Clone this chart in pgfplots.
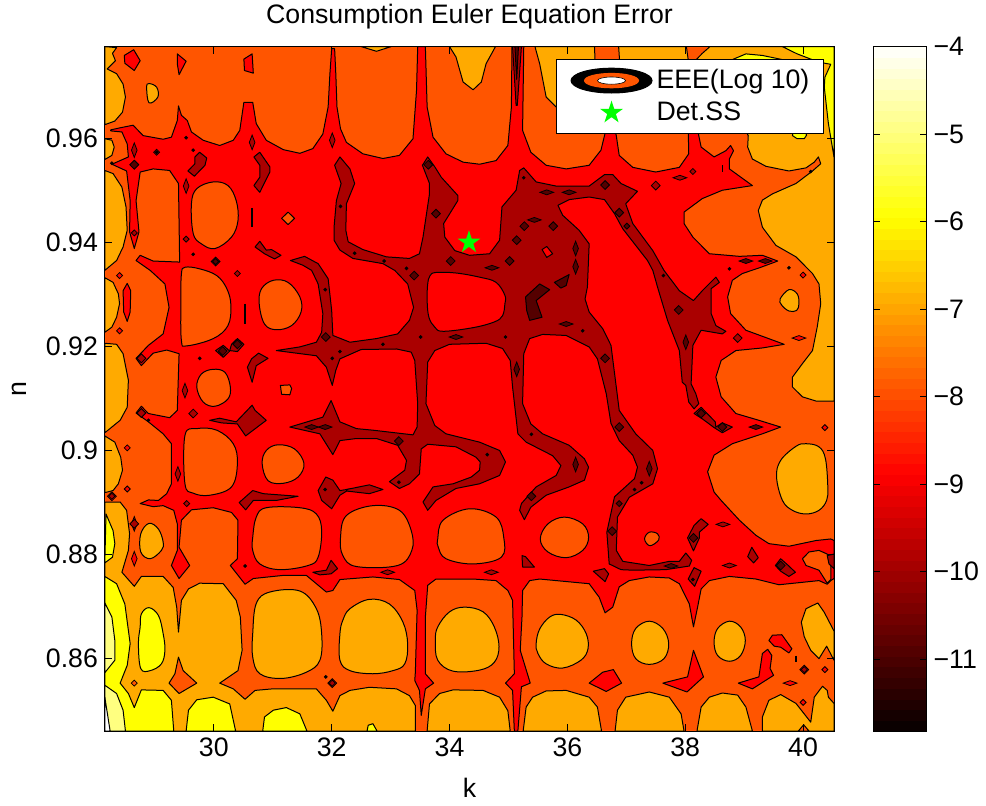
\documentclass[border=0pt]{standalone}
\usepackage{pgfplots}
\pgfplotsset{compat=1.18}
\usepackage{fontspec}
\setmainfont{Liberation Sans}
\definecolor{Cw}{RGB}{255,255,255}
\definecolor{C4}{RGB}{255,255,128}
\definecolor{C6}{RGB}{255,255,0}
\definecolor{C7}{RGB}{255,170,0}
\definecolor{C8}{RGB}{255,85,0}
\definecolor{C9}{RGB}{255,0,0}
\definecolor{C10}{RGB}{170,0,0}
\definecolor{C11}{RGB}{85,0,0}
\newcommand\fs{\fontsize{13.35}{15.5}\selectfont}
\pgfdeclareplotmark{dm}{%
 \pgfpathmoveto{\pgfqpoint{0pt}{\pgfplotmarksize}}%
 \pgfpathlineto{\pgfqpoint{\pgfplotmarksize}{0pt}}%
 \pgfpathlineto{\pgfqpoint{0pt}{-\pgfplotmarksize}}%
 \pgfpathlineto{\pgfqpoint{-\pgfplotmarksize}{0pt}}%
 \pgfpathclose\pgfusepathqfillstroke}
\pgfdeclareplotmark{fstar}{%
 \pgfpathmoveto{\pgfqpointpolar{90}{\pgfplotmarksize}}%
 \pgfpathlineto{\pgfqpointpolar{126}{.382\pgfplotmarksize}}%
 \pgfpathlineto{\pgfqpointpolar{162}{\pgfplotmarksize}}%
 \pgfpathlineto{\pgfqpointpolar{198}{.382\pgfplotmarksize}}%
 \pgfpathlineto{\pgfqpointpolar{234}{\pgfplotmarksize}}%
 \pgfpathlineto{\pgfqpointpolar{270}{.382\pgfplotmarksize}}%
 \pgfpathlineto{\pgfqpointpolar{306}{\pgfplotmarksize}}%
 \pgfpathlineto{\pgfqpointpolar{342}{.382\pgfplotmarksize}}%
 \pgfpathlineto{\pgfqpointpolar{18}{\pgfplotmarksize}}%
 \pgfpathlineto{\pgfqpointpolar{54}{.382\pgfplotmarksize}}%
 \pgfpathclose\pgfusepathqfill}
\pgfplotsset{
 lev/.style={fill=#1,draw=black,line width=.5pt,line join=round,mark=none,forget plot},
 blob/.style={lev=#1,smooth cycle,tension=.62},
 mk/.style={only marks,mark=dm,forget plot,draw=black,fill=#1,mark options={draw=black,fill=#1,line width=.4pt}},
 dA/.style={mk=#1,mark size=2.2pt},
 dB/.style={mk=#1,mark size=1.5pt},
 dT/.style={mk=#1,mark size=1.4pt,mark options={draw=black,fill=#1,line width=.4pt,yscale=2.6}},
 dF/.style={mk=#1,mark size=3.4pt,mark options={draw=black,fill=#1,line width=.4pt,yscale=.36}},
 dD/.style={mk=#1,mark size=.7pt},
}
\begin{document}
\begin{tikzpicture}
\path[use as bounding box] (-52.5pt,-37pt) rectangle (440.5pt,365.5pt);
\begin{axis}[
 scale only axis,width=364.5pt,height=342.2pt,
 xmin=28.153,xmax=40.525,ymin=.8461,ymax=.9776,
 axis on top,
 axis line style={line width=.5pt},
 tick align=inside,major tick length=3.5pt,tick style={black,line width=.4pt},
 xtick={30,32,34,36,38,40},
 ytick={.86,.88,.9,.92,.94,.96},
 yticklabels={0.86,0.88,0.9,0.92,0.94,0.96},
 tick label style={font=\fs},
 /pgf/number format/assume math mode=true,
 xlabel={k},ylabel={n},
 xlabel style={font=\fs,yshift=-3.5pt},
 ylabel style={font=\fs,yshift=3pt},
 title={Consumption Euler Equation Error},
 title style={font=\fs,yshift=-1pt},
 colormap={hotm}{rgb255(0)=(5,0,0) rgb255(3)=(255,0,0) rgb255(6)=(255,255,0) rgb255(8)=(255,255,255)},
 point meta min=-11.82,point meta max=-4,
 colorbar,colorbar sampled,
 colorbar style={samples=65,width=26.75pt,scale only axis,at={(1.0535,1)},anchor=north west,
   ytick={-11,-10,-9,-8,-7,-6,-5,-4},
   yticklabels={−11,−10,−9,−8,−7,−6,−5,−4},
   tick align=inside,major tick length=3.5pt,
   tick label style={font=\fs},
   axis line style={line width=.5pt},
   yticklabel pos=right,ytick pos=both},
 legend style={at={(.6187,.982)},anchor=north west,draw=black,line width=.5pt,fill=white,
   font=\fs,inner xsep=5pt,inner ysep=3pt,row sep=1pt,cells={anchor=west},/tikz/every even column/.append style={column sep=3.5pt}},
]
% ---- base level
\addplot[lev=C8,draw=none] coordinates {(28.153,.8461)(40.525,.8461)(40.525,.9776)(28.153,.9776)} --cycle;
% ---- level -7 to -6 regions
\addplot[lev=C7] coordinates {(28.15,.9776)(28.35,.9774)(28.28,.9763)(28.33,.9749)(28.19,.9733)(28.35,.9724)(28.46,.9704)(28.50,.9679)(28.45,.965)(28.32,.9633)(28.15,.9626)} --cycle;
\addplot[lev=C7] coordinates {(28.15,.9599)(28.27,.9596)(28.31,.9583)(28.27,.9567)(28.15,.9559)} --cycle;
\addplot[lev=C7] coordinates {(28.15,.9538)(28.29,.9532)(28.44,.9506)(28.51,.9468)(28.53,.9423)(28.46,.9391)(28.35,.9365)(28.15,.9346)} --cycle;
\addplot[lev=C7] coordinates {(28.15,.9332)(28.29,.9323)(28.38,.9301)(28.40,.9282)(28.35,.9256)(28.27,.9237)(28.15,.9227)} --cycle;
\addplot[lev=C7] coordinates {(28.15,.9206)(28.35,.9204)(28.46,.9186)(28.55,.9135)(28.53,.9083)(28.41,.9058)(28.15,.9034)} --cycle;
\addplot[lev=C7] coordinates {(28.15,.9028)(28.32,.9016)(28.42,.8987)(28.45,.8962)(28.38,.8936)(28.29,.8923)(28.15,.8919)} --cycle;
\addplot[lev=C7] coordinates {(28.15,.8901)(28.41,.8901)(28.52,.8885)(28.57,.8840)(28.55,.8808)(28.44,.8766)(28.65,.8739)(28.77,.8758)(29.14,.8758)(29.31,.8737)(29.37,.8699)(29.40,.8651)(29.45,.8712)(29.57,.8734)(29.76,.8745)(30.16,.8744)(30.38,.8712)(30.45,.8680)(30.48,.8616)(30.41,.8577)(30.10,.8553)(30.33,.8542)(30.53,.8522)(30.70,.8539)(31.00,.8542)(31.74,.8542)(31.91,.8520)(32.02,.8499)(32.14,.8529)(32.31,.8539)(32.64,.8545)(33.10,.8542)(33.32,.8529)(33.42,.8510)(33.42,.8461)(28.15,.8461)} --cycle;
\addplot[blob=C7] coordinates {(28.76,.8840)(28.90,.8860)(29.06,.8849)(29.14,.8824)(29.11,.8808)(28.92,.8792)(28.76,.8805)};
\addplot[blob=C7] coordinates {(30.66,.8648)(30.72,.8706)(30.95,.8728)(31.46,.8730)(31.74,.8696)(31.83,.8648)(31.80,.8597)(31.57,.8574)(31.15,.8562)(30.78,.8571)(30.66,.8603)};
\addplot[blob=C7] coordinates {(32.14,.8648)(32.19,.8674)(32.31,.8696)(32.64,.8714)(32.98,.8705)(33.21,.8670)(33.29,.8628)(33.24,.8590)(33.04,.8577)(32.70,.8571)(32.31,.8577)(32.14,.8597)};
\addplot[blob=C7] coordinates {(33.76,.8635)(33.80,.8661)(34.00,.8690)(34.26,.8699)(34.57,.8690)(34.76,.8661)(34.84,.8623)(34.76,.8593)(34.51,.8578)(34.06,.8576)(33.80,.8597)};
\addplot[blob=C7] coordinates {(35.47,.8629)(35.53,.8657)(35.70,.8680)(35.89,.8685)(36.15,.8674)(36.32,.8648)(36.35,.8619)(36.23,.8597)(35.92,.8582)(35.64,.8590)(35.50,.8610)};
\addplot[lev=C7] coordinates {(33.62,.8461)(33.66,.8513)(33.83,.8533)(34.06,.8540)(34.57,.8539)(34.85,.8526)(34.99,.8500)(35.03,.8461)} --cycle;
\addplot[lev=C7] coordinates {(35.25,.8461)(35.30,.8507)(35.41,.8526)(35.64,.8538)(35.98,.8539)(36.37,.8526)(36.51,.8507)(36.58,.8461)} --cycle;
\addplot[lev=C7] coordinates {(36.81,.8461)(36.85,.8501)(36.99,.8526)(37.39,.8536)(37.73,.8526)(37.93,.8494)(37.98,.8461)} --cycle;
\addplot[lev=C7] coordinates {(38.20,.8461)(38.27,.8507)(38.41,.8526)(38.63,.8534)(38.89,.8530)(39.03,.8507)(39.14,.8461)} --cycle;
\addplot[lev=C7] coordinates {(39.31,.8461)(39.31,.8488)(39.42,.8520)(39.62,.8531)(39.88,.8514)(40.13,.8478)(40.19,.8526)(40.33,.8547)(40.41,.8539)(40.43,.8526)(40.525,.8514)(40.525,.8461)} --cycle;
\addplot[blob=C7] coordinates {(37.09,.8629)(37.16,.8658)(37.39,.8672)(37.62,.8658)(37.72,.8629)(37.64,.8600)(37.39,.8589)(37.16,.8600)};
\addplot[blob=C7] coordinates {(38.49,.8632)(38.55,.8658)(38.75,.8672)(38.94,.8661)(39.02,.8635)(38.94,.8606)(38.75,.8595)(38.55,.8606)};
\addplot[lev=C7] coordinates {(39.97,.8670)(40.05,.8696)(40.25,.8707)(40.36,.8689)(40.525,.8653)(40.525,.8597)(40.40,.8624)(40.27,.8600)(40.13,.8616)(40.02,.8642)} --cycle;
\addplot[blob=C7] coordinates {(39.55,.8949)(39.62,.8981)(39.88,.9008)(40.05,.9013)(40.27,.9007)(40.38,.8984)(40.42,.8930)(40.40,.8904)(40.27,.8885)(40.05,.8878)(39.82,.8885)(39.65,.8904)};
\addplot[lev=C7] coordinates {(34.00,.9776)(34.11,.9756)(34.23,.9708)(34.40,.9693)(34.54,.9708)(34.62,.9743)(34.78,.9776)} --cycle;
\addplot[lev=C7] coordinates {(32.50,.9776)(32.76,.9767)(33.01,.9776)} --cycle;
\addplot[lev=C7] coordinates {(35.45,.9776)(35.53,.9743)(35.64,.9679)(35.81,.9660)(35.98,.9666)(36.47,.9749)(36.46,.9776)} --cycle;
\addplot[lev=C7] coordinates {(36.87,.9776)(36.89,.9743)(38.06,.9743)(38.02,.9776)} --cycle;
\addplot[lev=C7] coordinates {(38.42,.9776)(40.525,.9776)(40.525,.9095)(40.22,.9095)(39.99,.9103)(39.82,.9122)(39.82,.9141)(39.99,.9167)(40.16,.9192)(40.24,.9237)(40.30,.9282)(40.27,.9320)(40.16,.9340)(39.88,.9372)(39.54,.9394)(39.31,.9429)(39.24,.9461)(39.31,.9481)(39.48,.9493)(39.88,.9513)(40.16,.9537)(40.30,.9551)(40.26,.9564)(40.19,.9554)(40.05,.9543)(39.76,.9537)(39.37,.9546)(39.14,.9560)(39.06,.9583)(39.07,.9605)(38.63,.9692)(38.17,.9749)(38.29,.9763)} --cycle;
% ---- yellow
\addplot[lev=C6] coordinates {(39.65,.9776)(39.90,.9762)(40.27,.9746)(40.47,.9742)(40.37,.9717)(40.36,.9698)(40.43,.9628)(40.525,.9564)(40.525,.9776)} --cycle;
\addplot[lev=C6] coordinates {(39.82,.9605)(39.90,.9599)(40.02,.9599)(40.06,.9606)(39.9,.9650)} --cycle;
\addplot[lev=C6] coordinates {(38.80,.9751)(39.03,.9762)(39.31,.9759)(39.65,.9751)(39.3,.970)} --cycle;
\addplot[lev=C6] coordinates {(28.15,.8758)(28.35,.8744)(28.49,.8705)(28.58,.8629)(28.53,.8587)(28.41,.8553)(28.55,.8533)(28.65,.8506)(28.77,.8540)(29.14,.8539)(29.28,.8520)(29.32,.8461)(28.15,.8461)} --cycle;
\addplot[lev=C6] coordinates {(28.17,.8878)(28.29,.8846)(28.32,.8821)(28.28,.8795)(28.15,.8784)} --cycle;
\addplot[lev=C6] coordinates {(29.53,.8461)(29.57,.8501)(29.71,.8521)(29.99,.8526)(30.27,.8513)(30.37,.8461)} --cycle;
\addplot[lev=C6] coordinates {(30.83,.8461)(30.86,.8488)(31.01,.8501)(31.23,.8506)(31.46,.8494)(31.58,.8461)} --cycle;
\addplot[blob=C6] coordinates {(28.75,.8661)(28.77,.8686)(28.90,.8698)(29.06,.8683)(29.14,.8648)(29.17,.8616)(29.11,.8590)(28.92,.8577)(28.76,.8581)(28.72,.8629)};
\addplot[lev=C6] coordinates {(32.60,.8461)(32.62,.8472)(32.70,.8475)(32.77,.8461)} --cycle;
% ---- lightest levels
\addplot[lev=C4] coordinates {(28.15,.8707)(28.27,.8680)(28.32,.8635)(28.32,.8597)(28.15,.8573)} --cycle;
\addplot[lev=C4] coordinates {(28.15,.8549)(28.35,.8533)(28.46,.8501)(28.50,.8461)(28.15,.8461)} --cycle;
\addplot[lev=Cw] coordinates {(28.15,.8526)(28.24,.8461)(28.15,.8461)} --cycle;
% ---- level -8 to -7 inside the orange
\addplot[lev=C8] coordinates {(29.40,.8603)(29.48,.8577)(29.71,.8553)(29.41,.8533)(29.24,.8553)(29.34,.8571)} --cycle;
\addplot[lev=C8] coordinates {(39.92,.8461)(40.01,.8473)(40.10,.8461)} --cycle;
\addplot[dB=C8] coordinates {(28.65,.8553)};
% ---- level -9 to -8
\addplot[lev=C9] coordinates {(28.25,.9616)(28.41,.9620)(28.63,.9625)(28.80,.9605)(29.14,.9598)(29.28,.9602)(29.38,.9634)(29.40,.9662)(29.45,.9644)(29.55,.9634)(29.62,.9612)(29.82,.9596)(30.10,.9586)(30.33,.9596)(30.44,.9615)(30.51,.9669)(30.66,.9669)(30.72,.9628)(30.89,.9596)(31.18,.9578)(31.46,.9571)(31.68,.9580)(31.85,.9608)(31.94,.9660)(31.97,.9724)(32.0,.9772)(32.05,.9772)(32.07,.9724)(32.09,.9660)(32.15,.9618)(32.25,.9592)(32.53,.9570)(32.87,.9561)(33.15,.9567)(33.38,.9599)(33.44,.9692)(33.46,.9776)(33.59,.9776)(33.62,.9660)(33.72,.9602)(33.94,.9570)(34.23,.9554)(34.51,.9550)(34.79,.9557)(34.99,.9586)(35.05,.9660)(35.06,.9776)(35.26,.9776)(35.24,.9615)(35.38,.9573)(35.64,.9548)(35.98,.9541)(36.37,.9548)(36.57,.9577)(36.63,.9605)(36.73,.9650)(36.83,.9605)(36.88,.9567)(37.11,.9544)(37.50,.9535)(37.90,.9544)(38.06,.9570)(38.05,.9620)(38.15,.9650)(38.23,.9605)(38.27,.9583)(38.49,.9564)(38.69,.9576)(38.77,.9586)(38.82,.9576)(38.75,.9560)(38.75,.9541)(39.14,.9509)(38.63,.9500)(38.29,.9484)(37.98,.9458)(37.98,.9436)(38.13,.9410)(38.41,.9378)(38.92,.9373)(39.31,.9375)(39.57,.9364)(39.26,.9351)(38.97,.9340)(38.80,.9327)(38.72,.9295)(38.77,.9263)(39.03,.9231)(39.68,.9204)(39.31,.9197)(38.86,.9192)(38.61,.9173)(38.52,.9141)(38.61,.9103)(38.86,.9071)(39.25,.9058)(39.62,.9045)(39.31,.9032)(38.80,.9013)(38.49,.8991)(38.38,.8959)(38.49,.8920)(38.61,.8904)(38.92,.8866)(39.20,.8837)(39.42,.8821)(39.76,.8816)(40.22,.8827)(40.47,.8830)(40.525,.8827)(40.525,.8754)(40.47,.8750)(40.41,.8743)(40.27,.8750)(39.76,.8744)(39.59,.8742)(39.20,.8753)(38.75,.8758)(38.41,.8750)(38.27,.8734)(38.21,.8699)(38.14,.8661)(38.07,.8705)(37.90,.8744)(37.73,.8755)(37.39,.8757)(37.05,.8750)(36.88,.8738)(36.77,.8699)(36.64,.8688)(36.54,.8718)(36.37,.8744)(35.53,.8753)(35.36,.8750)(35.24,.8731)(35.23,.8680)(35.20,.8616)(35.37,.8553)(35.22,.8546)(35.16,.8461)(35.10,.8461)(35.07,.8539)(34.95,.8553)(35.10,.8571)(35.07,.8712)(34.99,.8731)(34.79,.8750)(34.40,.8753)(33.77,.8753)(33.63,.8741)(33.59,.8680)(33.59,.8571)(33.73,.8553)(33.59,.8542)(33.52,.8491)(33.49,.8539)(33.41,.8558)(33.42,.8574)(33.45,.8693)(33.41,.8731)(33.15,.8752)(32.70,.8757)(32.14,.8752)(32.02,.8731)(31.91,.8728)(31.57,.8760)(31.18,.8760)(30.67,.8754)(30.53,.8743)(30.28,.8779)(30.40,.8792)(30.41,.8866)(30.30,.8881)(29.99,.8890)(29.62,.8886)(29.45,.8866)(29.41,.8814)(29.59,.8779)(29.41,.8754)(29.28,.8779)(29.38,.8808)(29.38,.8859)(29.32,.8885)(29.14,.8894)(28.97,.8892)(28.75,.8898)(28.89,.8905)(29.06,.8904)(29.20,.8917)(29.28,.8936)(29.28,.9013)(29.14,.9032)(28.89,.9055)(28.68,.9072)(28.77,.9085)(28.89,.9071)(29.25,.9063)(29.38,.9077)(29.41,.9186)(29.20,.9193)(28.97,.9187)(28.77,.9163)(28.68,.9177)(28.89,.9202)(29.14,.9224)(29.24,.9275)(29.17,.9320)(28.92,.9346)(28.68,.9365)(28.75,.9375)(28.97,.9364)(29.42,.9362)(29.40,.9513)(29.25,.9538)(28.97,.9541)(28.75,.9535)(28.68,.9480)(28.73,.9420)(28.65,.9388)(28.57,.9420)(28.58,.9480)(28.52,.9537)(28.27,.9550)(28.55,.9564)(28.53,.9589)(28.44,.9612)(28.25,.9614)} --cycle;
% islands of -8 to -7 in the red
\addplot[blob=C8] coordinates {(29.62,.9474)(29.71,.9503)(29.99,.9516)(30.24,.9509)(30.38,.9480)(30.41,.9442)(30.30,.9410)(30.02,.9388)(29.79,.9397)(29.65,.9417)};
\addplot[blob=C8] coordinates {(29.44,.9282)(29.45,.9339)(29.51,.9352)(29.76,.9349)(30.05,.9336)(30.22,.9311)(30.29,.9279)(30.24,.9240)(29.99,.9215)(29.54,.9201)(29.45,.9211)};
\addplot[blob=C8] coordinates {(30.77,.9282)(30.81,.9311)(31.01,.9327)(31.26,.9323)(31.46,.9295)(31.48,.9266)(31.32,.9240)(31.06,.9232)(30.86,.9243)};
\addplot[blob=C8] coordinates {(29.71,.9122)(29.79,.9147)(29.99,.9156)(30.19,.9150)(30.28,.9122)(30.24,.9099)(30.02,.9085)(29.82,.9093)};
\addplot[blob=C8] coordinates {(29.51,.9029)(29.71,.9042)(30.05,.9039)(30.33,.9013)(30.40,.8975)(30.30,.8930)(29.93,.8914)(29.65,.8918)(29.51,.8936)};
\addplot[blob=C8] coordinates {(30.82,.8975)(30.89,.9000)(31.09,.9011)(31.37,.9003)(31.53,.8975)(31.43,.8949)(31.18,.8937)(30.92,.8942)};
\addplot[blob=C8] coordinates {(30.66,.8833)(30.72,.8872)(30.89,.8890)(31.46,.8890)(31.74,.8878)(31.83,.8846)(31.77,.8795)(31.60,.8779)(31.12,.8771)(30.78,.8782)(30.66,.8808)};
\addplot[blob=C8] coordinates {(32.15,.8833)(32.25,.8875)(32.70,.8894)(33.15,.8885)(33.35,.8846)(33.36,.8808)(33.12,.8779)(32.42,.8777)(32.19,.8798)};
\addplot[blob=C8] coordinates {(33.80,.8830)(33.89,.8866)(34.34,.8888)(34.79,.8872)(34.92,.8833)(34.88,.8795)(34.40,.8782)(33.94,.8792)(33.81,.8814)};
\addplot[blob=C8] coordinates {(35.54,.8830)(35.67,.8859)(35.95,.8872)(36.26,.8859)(36.36,.8833)(36.26,.8808)(35.98,.8794)(35.67,.8805)};
\addplot[lev=C8] coordinates {(31.15,.9446)(31.26,.9458)(31.37,.9446)(31.26,.9434)} --cycle;
\addplot[lev=C8] coordinates {(31.13,.9125)(31.29,.9126)(31.32,.9119)(31.29,.9107)(31.15,.9108)} --cycle;
\addplot[blob=C8] coordinates {(37.31,.8830)(37.39,.8843)(37.53,.8840)(37.55,.8828)(37.40,.8817)};
\addplot[lev=C8] coordinates {(39.99,.8792)(40.10,.8805)(40.27,.8808)(40.41,.8801)(40.47,.8779)(40.47,.8752)(40.41,.8745)(40.27,.8770)(40.05,.8779)} --cycle;
\addplot[blob=C7] coordinates {(28.86,.9698)(28.90,.9705)(29.03,.9698)(29.05,.9679)(28.90,.9668)};
\addplot[blob=C7] coordinates {(39.61,.9291)(39.76,.9309)(39.90,.9301)(39.93,.9282)(39.89,.9269)(39.76,.9268)(39.64,.9279)};
% red islands on the orange-red
\addplot[lev=C9] coordinates {(28.48,.9759)(28.64,.9770)(28.75,.9749)(28.65,.9730)(28.49,.9744)} --cycle;
\addplot[lev=C9] coordinates {(29.38,.9762)(29.53,.9748)(29.41,.9722)(29.38,.9743)} --cycle;
\addplot[lev=C9] coordinates {(30.51,.9752)(30.65,.9762)(30.67,.9725)(30.52,.9730)} --cycle;
\addplot[lev=C9] coordinates {(36.37,.8553)(36.60,.8574)(36.78,.8579)(36.92,.8553)(36.66,.8537)} --cycle;
\addplot[lev=C9] coordinates {(37.62,.8553)(38.04,.8565)(38.14,.8616)(38.31,.8565)(38.03,.8536)} --cycle;
\addplot[lev=C9] coordinates {(38.90,.8553)(39.25,.8565)(39.31,.8610)(39.40,.8618)(39.47,.8606)(39.44,.8581)(39.50,.8568)(39.14,.8542)} --cycle;
\addplot[lev=C9] coordinates {(39.42,.8635)(39.48,.8645)(39.64,.8646)(39.81,.8619)(39.76,.8611)(39.62,.8622)(39.51,.8624)} --cycle;
\addplot[lev=C9] coordinates {(28.46,.9307)(28.53,.9321)(28.59,.9307)(28.58,.9266)(28.53,.9248)(28.47,.9266)} --cycle;
\addplot[dA=C9] coordinates {(40.02,.8579)(32.01,.8553)(28.77,.9177)(28.77,.9072)(28.27,.8912)};
\addplot[dB=C9] coordinates {(28.53,.9005)(28.53,.8926)(28.40,.9230)(28.40,.9336)(40.37,.8579)(40.37,.9044)(40.00,.9337)(40.0,.8516)};
\addplot[dT=C9] coordinates {(28.65,.8792)(28.65,.8859)};
\addplot[dF=C9] coordinates {(39.93,.9216)(39.78,.8553)};
% ---- level -10 to -9
\addplot[lev=C10] coordinates {(32.14,.9564)(32.31,.9541)(32.39,.9513)(32.25,.9474)(32.24,.9423)(32.28,.9401)(32.53,.9386)(32.93,.9372)(33.32,.9369)(33.49,.9378)(33.55,.9410)(33.66,.9493)(33.66,.9513)(33.54,.9548)(33.63,.9564)(33.75,.9545)(33.86,.9525)(34.14,.9490)(34.14,.9480)(33.90,.9436)(33.92,.9410)(34.09,.9384)(34.34,.9375)(34.68,.9378)(34.85,.9404)(34.89,.9468)(35.13,.9500)(35.19,.9538)(35.26,.9543)(35.47,.9516)(35.81,.9508)(36.37,.9508)(36.63,.9530)(36.77,.9530)(36.91,.9513)(37.19,.9498)(36.99,.9474)(37.11,.9436)(37.45,.9384)(37.64,.9346)(37.90,.9307)(38.14,.9288)(38.29,.9307)(38.52,.9333)(38.58,.9323)(38.44,.9311)(38.44,.9263)(38.52,.9240)(38.69,.9229)(38.63,.9224)(38.27,.9231)(38.13,.9202)(38.10,.9128)(38.18,.9109)(38.23,.9090)(38.15,.9080)(38.06,.9093)(38.01,.9125)(37.95,.9131)(37.90,.9192)(37.70,.9250)(37.53,.9314)(37.45,.9346)(37.36,.9365)(36.94,.9426)(36.80,.9455)(36.63,.9482)(36.37,.9487)(36.03,.9482)(35.84,.9471)(35.92,.9452)(36.20,.9423)(36.37,.9397)(36.34,.9314)(36.30,.9291)(36.37,.9266)(36.60,.9234)(36.74,.9202)(36.83,.9122)(36.88,.9077)(37.16,.9032)(37.45,.9000)(37.53,.8965)(37.45,.8936)(37.05,.8910)(36.85,.8872)(36.83,.8808)(36.94,.8787)(37.39,.8779)(37.73,.8787)(37.90,.8787)(38.01,.8803)(38.11,.8789)(38.07,.8778)(37.67,.8771)(37.11,.8770)(36.91,.8771)(36.71,.8782)(36.67,.8843)(36.75,.8885)(36.80,.8911)(37.14,.8946)(37.19,.8968)(37.11,.8991)(36.88,.9019)(36.74,.9052)(36.66,.9109)(36.51,.9176)(36.37,.9199)(35.98,.9221)(35.58,.9223)(35.36,.9215)(35.26,.9186)(35.24,.9090)(35.38,.9051)(35.58,.9032)(36.03,.9010)(36.29,.8984)(36.36,.8968)(36.29,.8943)(36.03,.8930)(35.64,.8914)(35.38,.8891)(35.27,.8867)(35.19,.8885)(35.22,.8898)(35.47,.8930)(35.81,.8952)(35.89,.8971)(35.75,.8990)(35.30,.9016)(35.16,.9032)(35.07,.9122)(35.03,.9173)(34.90,.9196)(34.62,.9206)(34.00,.9204)(33.75,.9192)(33.63,.9170)(33.60,.9090)(33.75,.9048)(33.94,.9032)(34.51,.9016)(34.85,.9000)(34.95,.8978)(34.85,.8952)(34.51,.8936)(34.11,.8927)(33.77,.8904)(33.63,.8885)(33.55,.8901)(33.72,.8930)(34.06,.8936)(34.37,.8949)(34.51,.8962)(34.52,.8978)(34.45,.8987)(34.11,.9007)(33.63,.9012)(33.52,.9003)(33.49,.8955)(33.32,.8936)(33.15,.8927)(32.98,.8940)(33.24,.8962)(33.27,.8981)(33.12,.9010)(32.76,.9023)(32.42,.9023)(32.14,.9019)(32.02,.8992)(31.80,.9032)(31.29,.9045)(31.85,.9064)(31.99,.9096)(32.14,.9055)(32.42,.9042)(32.70,.9039)(33.38,.9030)(33.45,.9045)(33.46,.9090)(33.41,.9173)(33.35,.9189)(33.10,.9195)(32.50,.9194)(32.14,.9176)(32.07,.9154)(32.01,.9125)(31.91,.9160)(31.74,.9182)(31.06,.9192)(31.46,.9199)(31.74,.9208)(31.83,.9227)(31.85,.9263)(31.77,.9320)(31.66,.9346)(31.51,.9356)(31.30,.9365)(31.54,.9373)(31.77,.9359)(31.94,.9330)(32.0,.9269)(32.02,.9221)(32.31,.9208)(32.76,.9215)(33.12,.9224)(33.32,.9250)(33.39,.9275)(33.29,.9320)(33.07,.9346)(32.87,.9359)(32.36,.9369)(32.14,.9385)(32.04,.9404)(32.04,.9429)(32.08,.9480)(32.16,.9513)(32.05,.9548)} --cycle;
\addplot[blob=C9] coordinates {(33.63,.9320)(33.67,.9336)(33.77,.9342)(34.11,.9341)(34.51,.9333)(34.79,.9323)(34.94,.9298)(34.94,.9282)(34.90,.9259)(34.76,.9247)(34.40,.9236)(33.89,.9229)(33.75,.9237)(33.65,.9256)(33.62,.9288)};
\addplot[lev=C9] coordinates {(35.57,.9386)(35.65,.9392)(35.75,.9378)(35.65,.9371)} --cycle;
\addplot[lev=C10] coordinates {(29.56,.9537)(29.68,.9551)(29.68,.9564)(29.76,.9573)(29.88,.9562)(29.85,.9548)(29.67,.9527)} --cycle;
\addplot[lev=C10] coordinates {(30.68,.9564)(30.78,.9573)(30.95,.9545)(30.95,.9535)(30.78,.9496)(30.68,.9509)(30.78,.9525)(30.78,.9548)} --cycle;
\addplot[lev=C10] coordinates {(30.70,.9391)(30.78,.9402)(30.89,.9385)(30.98,.9386)(31.14,.9375)(31.03,.9368)(30.86,.9378)} --cycle;
\addplot[lev=C10] coordinates {(30.03,.9192)(30.16,.9202)(30.27,.9191)(30.16,.9179)} --cycle;
\addplot[lev=C10] coordinates {(30.27,.9192)(30.30,.9204)(30.40,.9215)(30.51,.9204)(30.40,.9190)} --cycle;
\addplot[lev=C10] coordinates {(30.57,.9160)(30.64,.9176)(30.76,.9187)(30.92,.9177)(30.72,.9163)(30.65,.9131)} --cycle;
\addplot[lev=C10] coordinates {(29.93,.9058)(30.10,.9062)(30.38,.9055)(30.65,.9087)(30.70,.9077)(30.89,.9058)(30.54,.9028)(30.40,.9051)(30.13,.9053)} --cycle;
\addplot[lev=C10] coordinates {(30.43,.8900)(30.66,.8923)(30.84,.8917)(31.43,.8912)(31.06,.8904)(30.67,.8904)(30.54,.8886)} --cycle;
\addplot[lev=C10] coordinates {(31.77,.8923)(31.90,.8949)(32.02,.8943)(32.14,.8923)(32.31,.8926)(32.14,.8914)(32.0,.8888)(31.83,.8904)} --cycle;
\addplot[lev=C10] coordinates {(32.25,.8925)(32.64,.8934)(32.87,.8925)(32.64,.8917)(32.26,.8922)} --cycle;
\addplot[lev=C10] coordinates {(31.68,.8766)(31.91,.8770)(31.99,.8789)(32.10,.8773)(31.99,.8763)(31.80,.8761)} --cycle;
\addplot[lev=C10] coordinates {(35.23,.8798)(35.29,.8796)(35.44,.8776)(35.24,.8776)} --cycle;
\addplot[lev=C10] coordinates {(36.44,.8768)(36.63,.8773)(36.70,.8763)(36.64,.8748)} --cycle;
\addplot[lev=C10] coordinates {(38.04,.8832)(38.15,.8856)(38.27,.8869)(38.39,.8858)(38.24,.8843)(38.24,.8832)(38.14,.8807)} --cycle;
\addplot[lev=C10] coordinates {(38.05,.8753)(38.15,.8775)(38.27,.8768)(38.16,.8739)} --cycle;
\addplot[lev=C10] coordinates {(39.06,.8796)(39.13,.8814)(39.24,.8794)(39.16,.8784)} --cycle;
\addplot[lev=C10] coordinates {(39.53,.8779)(39.62,.8792)(39.75,.8779)(39.87,.8766)(39.76,.8758)(39.62,.8768)} --cycle;
\addplot[lev=C10] coordinates {(40.41,.8798)(40.525,.8801)(40.525,.8773)(40.44,.8782)} --cycle;
\addplot[lev=C10] coordinates {(38.15,.9071)(38.27,.9083)(38.51,.9055)(38.52,.9045)(38.63,.9053)(38.80,.9045)(38.63,.9034)(38.49,.9044)(38.30,.9060)} --cycle;
\addplot[lev=C10] coordinates {(35.07,.9776)(35.13,.9663)(35.15,.9663)(35.22,.9776)} --cycle;
\addplot[lev=C11] coordinates {(35.11,.9776)(35.14,.9713)(35.17,.9776)} --cycle;
\addplot[dA=C10] coordinates {(28.65,.9549)(30.03,.9363)(28.77,.9177)(28.77,.9072)(29.65,.9071)(28.65,.8859)(38.89,.9216)(37.50,.9509)};
\addplot[dB=C10] coordinates {(28.65,.9418)(29.03,.9573)(30.40,.9340)(29.53,.9406)(29.54,.8898)(38.13,.9536)(28.27,.8912)(32.01,.8553)(40.02,.8579)};
\addplot[dT=C10] coordinates {(28.65,.9577)(30.65,.9592)(32.01,.9596)(29.53,.9508)(29.51,.9115)(29.39,.8955)};
\addplot[dF=C10] coordinates {(32.95,.8766)(34.71,.8766)(38.75,.8779)(38.64,.8858)(37.91,.9524)};
% ---- level -11 to -10
\addplot[lev=C11] coordinates {(35.29,.9295)(35.53,.9320)(35.70,.9309)(35.47,.9288)(35.57,.9256)(35.36,.9250)(35.31,.9269)} --cycle;
\addplot[lev=C11] coordinates {(35.78,.9323)(36.03,.9338)(35.98,.9317)(35.89,.9312)} --cycle;
\addplot[dA=C11] coordinates {(33.64,.9549)(34.02,.9364)(35.02,.9364)(35.14,.9404)(35.27,.9431)(35.76,.9431)(33.77,.9455)(36.64,.9510)(36.88,.9457)(37.89,.9270)(36.64,.9177)(36.88,.9045)(38.27,.9071)(38.63,.9045)(35.39,.8912)(33.40,.9336)(33.14,.9018)(31.90,.9218)(30.15,.9191)(30.40,.9204)(36.76,.8845)(38.14,.8832)(39.62,.8779)(28.65,.9549)};
\addplot[dB=C11] coordinates {(37.01,.9431)(36.88,.8898)(30.03,.9363)};
\addplot[dT=C11] coordinates {(36.14,.9388)(36.14,.9353)(37.39,.8965)(38.01,.9208)(35.14,.9156)(36.14,.8973)};
\addplot[dF=C11] coordinates {(35.65,.9496)(35.44,.9443)(36.03,.9496)(34.72,.9351)(39.20,.9045)(39.03,.9364)(39.36,.9364)(34.11,.9218)(35.98,.9243)(31.66,.9045)(31.89,.9045)(37.76,.8778)};
\addplot[dD=black] coordinates {(29.53,.9601)(29.65,.9577)(29.65,.9377)(29.76,.9177)(28.89,.9058)(40.13,.9536)(38.75,.9349)(39.76,.9351)(30.53,.8778)(31.90,.8565)(32.14,.9190)(32.87,.9204)(33.51,.9218)(34.95,.9218)(36.26,.9230)(35.39,.9031)(34.64,.8992)(33.14,.8939)(31.89,.9309)(32.01,.9177)(31.89,.8925)(37.14,.8925)(37.26,.8938)(38.13,.8752)(32.89,.9364)(33.27,.9350)(32.39,.9379)(35.26,.9524)(32.15,.9469)(37.63,.9336)(29.03,.9573)(28.27,.9552)};
\addplot[black,line width=.8pt,forget plot,mark=none] coordinates {(30.65,.9466)(30.65,.9430)};
\addplot[black,line width=.8pt,forget plot,mark=none] coordinates {(30.53,.9282)(30.53,.9243)};
\addplot[black,line width=.8pt,forget plot,mark=none] coordinates {(39.88,.8606)(39.88,.8593)};
\addplot[black,line width=.8pt,forget plot,mark=none] coordinates {(38.63,.9548)(38.63,.9535)};
% ---- legend entries and the steady state
\addlegendimage{legend image code/.code={
  \path (0,0) (42.5pt,0);
  \fill[black] (22.25pt,0) ellipse (20.25pt and 6.2pt);
  \fill[C8] (22.25pt,0) ellipse (13.5pt and 3.6pt);
  \filldraw[fill=white,draw=black,line width=.3pt] (22.25pt,0) ellipse (7pt and 1.8pt);}}
\addlegendentry{EEE(Log 10)}
\addplot[only marks,mark=fstar,mark size=6pt,color=green,fill=green,mark options={fill=green},
  legend image code/.code={\path (0,0) (42.5pt,0);
  \begin{scope}[shift={(22.25pt,0)}]\pgfsetfillcolor{green}\pgfplotsset{mark size=6pt}\pgfuseplotmark{fstar}\end{scope}}]
  coordinates {(34.33,.94)};
\addlegendentry{Det.SS}
\end{axis}
\end{tikzpicture}
\end{document}
